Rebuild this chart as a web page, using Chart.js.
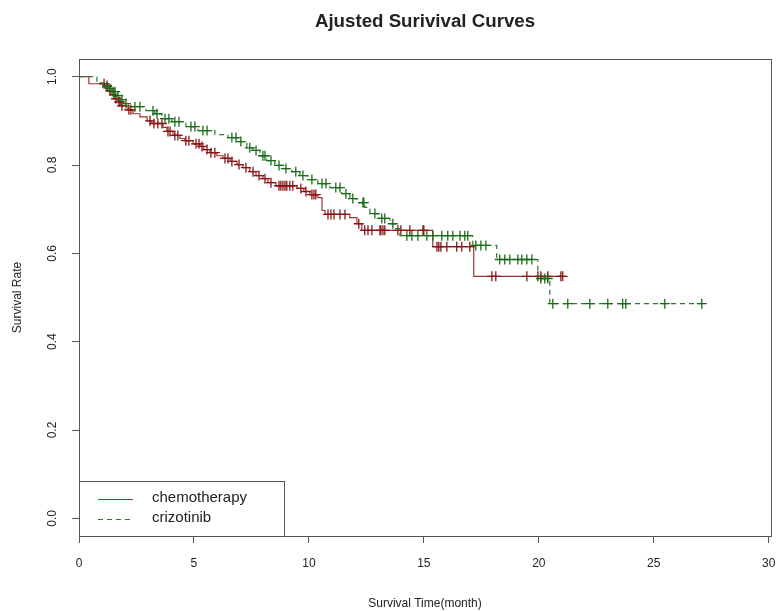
<!DOCTYPE html>
<html>
<head>
<meta charset="utf-8">
<title>Ajusted Surivival Curves</title>
<script src="https://cdn.jsdelivr.net/npm/chart.js@4.4.1/dist/chart.umd.min.js"></script>
<style>
  html, body { margin: 0; padding: 0; background: #fff; }
  #wrap { position: relative; width: 783px; height: 611px; }
</style>
</head>
<body>
<div id="wrap"><canvas id="km" width="783" height="611"></canvas></div>
<script>
// chemotherapy: event times (month), survival after each drop, censor times
const chemoTimes = [0.43, 1.13, 1.26, 1.43, 1.57, 1.70, 1.83, 2.13, 2.35, 2.65, 2.96, 3.17, 3.65, 3.83,
  4.09, 4.39, 4.61, 4.96, 5.26, 5.43, 5.70, 6.00, 6.26, 6.57, 6.87, 7.13, 7.43, 7.70, 8.00, 8.22, 8.57,
  9.48, 9.78, 10.04, 10.39, 10.57, 10.70, 11.78, 12.09, 12.30, 15.39, 17.17];
const chemoSurv = [0.984, 0.977, 0.968, 0.959, 0.950, 0.943, 0.934, 0.925, 0.916, 0.909, 0.900, 0.894, 0.885, 0.876,
  0.867, 0.860, 0.855, 0.848, 0.842, 0.835, 0.828, 0.821, 0.815, 0.808, 0.801, 0.794, 0.785, 0.776, 0.769, 0.760, 0.753,
  0.747, 0.740, 0.733, 0.726, 0.697, 0.688, 0.681, 0.667, 0.652, 0.615, 0.548];
const chemoCensor = [1.09, 1.22, 1.35, 1.52, 1.61, 1.74, 1.78, 1.87, 2.17, 2.26, 3.09, 3.26, 3.43, 3.61, 3.87, 3.96,
  4.17, 4.30, 4.65, 4.78, 5.09, 5.22, 5.35, 5.57, 5.74, 5.91, 6.35, 6.48, 6.65, 6.96, 7.26, 7.57, 7.83, 8.09, 8.35,
  8.70, 8.78, 8.87, 8.96, 9.04, 9.17, 9.30, 9.65, 9.87, 10.13, 10.22, 10.30, 10.83, 10.96, 11.09, 11.35, 11.57,
  12.17, 12.43, 12.57, 12.74, 13.09, 13.13, 13.22, 13.30, 13.87, 14.00, 14.39, 14.96, 15.00, 15.57, 15.65, 15.74,
  16.00, 16.43, 16.65, 17.00, 17.96, 18.13, 19.48, 19.96, 20.09, 20.39, 20.96, 21.04];

// crizotinib
const crizTimes = [0.78, 1.09, 1.26, 1.43, 1.61, 1.78, 1.96, 2.22, 2.91, 3.30, 3.61, 4.04, 4.65, 5.17, 5.91,
  6.48, 6.91, 7.30, 7.57, 7.87, 8.17, 8.52, 8.87, 9.26, 9.61, 9.96, 10.39, 10.91, 11.43, 11.78, 12.09, 12.43,
  12.65, 13.00, 13.52, 13.74, 13.96, 17.13, 18.17, 19.96, 20.48];
const crizSurv = [0.986, 0.980, 0.973, 0.966, 0.957, 0.948, 0.939, 0.932, 0.923, 0.916, 0.905, 0.898, 0.887, 0.878, 0.869,
  0.862, 0.853, 0.839, 0.833, 0.821, 0.810, 0.799, 0.792, 0.785, 0.776, 0.767, 0.758, 0.749, 0.735, 0.724, 0.715, 0.704,
  0.690, 0.679, 0.667, 0.656, 0.640, 0.618, 0.586, 0.543, 0.486];
const crizCensor = [1.22, 1.35, 1.48, 1.57, 1.70, 1.87, 2.04, 2.43, 2.65, 3.22, 3.39, 3.74, 3.91, 4.17, 4.35, 4.87,
  5.04, 5.39, 5.57, 6.65, 6.83, 7.04, 7.43, 7.70, 8.00, 8.09, 8.35, 8.70, 9.00, 9.43, 9.74, 10.13, 10.57, 10.74,
  11.17, 11.35, 11.61, 11.91, 12.35, 12.39, 12.87, 13.17, 13.30, 13.65, 14.26, 14.48, 14.74, 15.13, 15.39, 15.78,
  16.04, 16.26, 16.57, 16.78, 16.91, 17.26, 17.48, 17.70, 18.30, 18.52, 18.74, 19.09, 19.26, 19.48, 19.70, 20.09,
  20.26, 20.39, 20.61, 21.26, 22.22, 23.00, 23.65, 23.78, 25.48, 27.09];

const groupNames = ['chemotherapy', 'crizotinib'];
const xTicks = [0, 5, 10, 15, 20, 25, 30];
const yTicks = [0, 0.2, 0.4, 0.6, 0.8, 1.0];
const chartTitle = 'Ajusted Surivival Curves';
const xTitle = 'Survival Time(month)';
const yTitle = 'Survival Rate';

const RED_LINE = '#9a3434';
const RED_MARK = '#8b1414';
const GREEN_LINE = '#2c7a2c';
const GREEN_MARK = '#1b6b1b';
const AXIS = '#555555';
const TEXT = '#222222';
const FONT = '"Liberation Sans", Arial, sans-serif';
const DASH = [5, 4];

// merge drops and censor marks into one step curve, censored points sit on the current level
function kmPoints(times, surv, censor) {
  const pts = [{x: 0, y: 1, c: false}];
  times.forEach((t, i) => pts.push({x: t, y: surv[i], c: false}));
  censor.forEach(t => pts.push({x: t, y: null, c: true}));
  pts.sort((a, b) => a.x - b.x || (a.c - b.c));
  let s = 1;
  pts.forEach(p => { if (p.c) p.y = s; else s = p.y; });
  return pts;
}

const chemo = kmPoints(chemoTimes, chemoSurv, chemoCensor);
const criz = kmPoints(crizTimes, crizSurv, crizCensor);

// title, frame, rotated y labels and legend box, R style
const rDecor = {
  id: 'rDecor',
  afterDraw(chart) {
    const {ctx, chartArea: a, scales} = chart;
    ctx.save();
    ctx.strokeStyle = AXIS;
    ctx.lineWidth = 1;
    ctx.strokeRect(a.left + 0.5, a.top + 0.5, a.right - a.left, a.bottom - a.top);

    ctx.fillStyle = TEXT;
    ctx.textAlign = 'center';
    ctx.textBaseline = 'middle';
    ctx.font = 'bold 18.7px ' + FONT;
    ctx.fillText(chartTitle, (a.left + a.right) / 2, 22);

    ctx.font = '12px ' + FONT;
    yTicks.forEach(v => {
      const py = scales.y.getPixelForValue(v);
      ctx.save();
      ctx.translate(53, py);
      ctx.rotate(-Math.PI / 2);
      ctx.fillText(v.toFixed(1), 0, 0);
      ctx.restore();
    });

    // legend
    const lx = a.left, lw = 205, lh = 55, ly = a.bottom - lh;
    ctx.fillStyle = '#fff';
    ctx.fillRect(lx, ly, lw, lh);
    ctx.strokeRect(lx + 0.5, ly + 0.5, lw, lh);
    ctx.font = '15px ' + FONT;
    const rows = [[RED_LINE, []], [GREEN_LINE, DASH]];
    rows.forEach((r, i) => {
      const yy = ly + 18 + i * 20;
      ctx.strokeStyle = r[0];
      ctx.lineWidth = 1.2;
      ctx.setLineDash(r[1]);
      ctx.beginPath();
      ctx.moveTo(lx + 19, yy + 0.5);
      ctx.lineTo(lx + 54, yy + 0.5);
      ctx.stroke();
      ctx.setLineDash([]);
      ctx.fillStyle = TEXT;
      ctx.textAlign = 'left';
      ctx.fillText(groupNames[i], lx + 73, yy - 1);
    });
    ctx.restore();
  }
};

new Chart(document.getElementById('km'), {
  type: 'line',
  data: {
    datasets: [
      {
        label: groupNames[0],
        data: chemo.map(p => ({x: p.x, y: p.y})),
        borderColor: RED_LINE,
        borderWidth: 1.2,
        stepped: true,
        fill: false,
        pointStyle: 'cross',
        pointRadius: chemo.map(p => p.c ? 5 : 0),
        pointBorderColor: RED_MARK,
        pointBorderWidth: 1.3,
        order: 2
      },
      {
        label: groupNames[1],
        data: criz.map(p => ({x: p.x, y: p.y})),
        borderColor: GREEN_LINE,
        borderWidth: 1.2,
        borderDash: DASH,
        stepped: true,
        fill: false,
        pointStyle: 'cross',
        pointRadius: criz.map(p => p.c ? 5 : 0),
        pointBorderColor: GREEN_MARK,
        pointBorderWidth: 1.3,
        order: 1
      }
    ]
  },
  options: {
    responsive: false,
    animation: false,
    events: [],
    layout: { padding: { top: 59, left: 0, right: 12, bottom: 0 } },
    plugins: {
      legend: { display: false },
      title: { display: false },
      tooltip: { enabled: false }
    },
    scales: {
      x: {
        type: 'linear',
        min: 0,
        max: 30.1,
        afterBuildTicks: s => { s.ticks = xTicks.map(v => ({value: v})); },
        afterFit: s => { s.height = 75; s.paddingLeft = 0; s.paddingRight = 0; },
        grid: { drawOnChartArea: false, drawTicks: true, tickLength: 7, color: AXIS },
        border: { display: false },
        ticks: { padding: 13, color: TEXT, font: { size: 12, family: FONT }, maxRotation: 0, autoSkip: false },
        title: { display: true, text: xTitle, color: TEXT, font: { size: 12, family: FONT }, padding: { top: 0, bottom: 0 } }
      },
      y: {
        type: 'linear',
        min: -0.04,
        max: 1.04,
        afterBuildTicks: s => { s.ticks = yTicks.map(v => ({value: v})); },
        afterFit: s => { s.width = 79; s.paddingTop = 0; s.paddingBottom = 0; },
        grid: { drawOnChartArea: false, drawTicks: true, tickLength: 7, color: AXIS },
        border: { display: false },
        ticks: { display: false },
        title: { display: true, text: yTitle, color: TEXT, font: { size: 12, family: FONT }, padding: { top: 10, bottom: 0 } }
      }
    }
  },
  plugins: [rDecor]
});
</script>
</body>
</html>
